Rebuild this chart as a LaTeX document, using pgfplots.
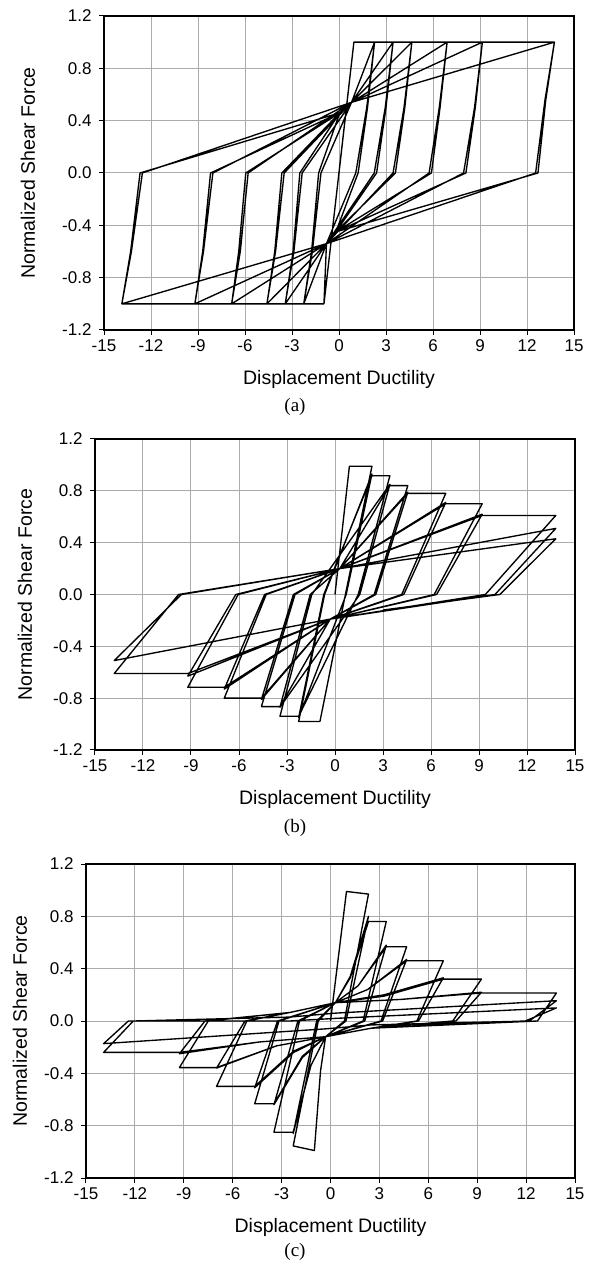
\documentclass[border=0pt]{standalone}
\usepackage{fontspec}
\setmainfont{Liberation Sans}
\newfontfamily\capfont{Liberation Serif}
\usepackage{pgfplots}
\pgfplotsset{compat=1.18}
\pgfplotsset{hyst/.style={
  scale only axis, xmin=-15, xmax=15, ymin=-1.2, ymax=1.2,
  xtick={-15,-12,-9,-6,-3,0,3,6,9,12,15},
  ytick={-1.2,-0.8,-0.4,0,0.4,0.8,1.2},
  grid=major, major grid style={color=black!33, line width=1pt},
  axis line style={line width=1.3pt},
  tick align=outside, tick pos=left, major tick length=5pt,
  tick style={black, line width=1pt},
  /pgf/number format/assume math mode=true,
  yticklabel style={xshift=-4pt, /pgf/number format/fixed, /pgf/number format/fixed zerofill, /pgf/number format/precision=1},
  xticklabel style={yshift=-1pt},
  tick label style={font=\fontsize{17}{17}\selectfont},
  label style={font=\fontsize{19.5}{19.5}\selectfont},
  xlabel={Displacement Ductility}, ylabel={Normalized Shear Force},
  xlabel style={at={(axis description cs:0.5,-0.158)}, anchor=center},
}}
\tikzset{hline/.style={black, line width=1.35pt, line join=round, mark=none}}
\begin{document}
\begin{tikzpicture}
\path[use as bounding box] (0pt,0pt) rectangle (589pt,1270pt);
% ---------------- (a)
\begin{axis}[hyst, at={(104pt,940pt)}, anchor=south west, width=470pt, height=314pt,
  ylabel style={at={(axis description cs:-0.162,0.5)}, anchor=center}]
\addplot[hline] coordinates {
(0,0) (0.95,1) (-0.96,-1) (0.95,1)
(2.27,1) (1.82,0.5) (1.22,0) (-0.2,-0.45) (-0.8,-0.54) (-0.96,-1) (-2.25,-1) (-1.75,-0.6) (-1.3,0) (0.05,0.46) (0.8,0.54) (2.27,1)
(1.77,0.5) (1.07,0) (-0.8,-0.54) (-2.25,-1) (-1.7,-0.6) (-1.15,0) (0.8,0.54) (2.27,1)
(3.45,1) (3.0,0.5) (2.4,0) (-0.2,-0.45) (-0.8,-0.54) (-2.25,-1) (-3.43,-1) (-2.93,-0.6) (-2.5,0) (0.05,0.46) (0.8,0.54) (3.45,1)
(2.95,0.5) (2.25,0) (-0.8,-0.54) (-3.43,-1) (-2.88,-0.6) (-2.35,0) (0.8,0.54) (3.45,1)
(4.65,1) (4.2,0.5) (3.6,0) (-0.2,-0.45) (-0.8,-0.54) (-3.43,-1) (-4.6,-1) (-4.1,-0.6) (-3.65,0) (0.05,0.46) (0.8,0.54) (4.65,1)
(4.15,0.5) (3.45,0) (-0.8,-0.54) (-4.6,-1) (-4.05,-0.6) (-3.5,0) (0.8,0.54) (4.65,1)
(6.9,1) (6.45,0.5) (5.9,0) (-0.2,-0.45) (-0.8,-0.54) (-4.6,-1) (-6.85,-1) (-6.4,-0.6) (-5.95,0) (0.05,0.46) (0.8,0.54) (6.9,1)
(6.4,0.5) (5.75,0) (-0.8,-0.54) (-6.85,-1) (-6.3,-0.6) (-5.8,0) (0.8,0.54) (6.9,1)
(9.15,1) (8.7,0.5) (8.1,0) (-0.2,-0.45) (-0.8,-0.54) (-6.85,-1) (-9.2,-1) (-8.7,-0.6) (-8.2,0) (0.05,0.46) (0.8,0.54) (9.15,1)
(8.65,0.5) (7.95,0) (-0.8,-0.54) (-9.2,-1) (-8.65,-0.6) (-8.05,0) (0.8,0.54) (9.15,1)
(13.75,1) (13.2,0.56) (12.7,0) (-0.2,-0.45) (-0.8,-0.54) (-9.2,-1) (-13.86,-1) (-13.3,-0.6) (-12.7,0) (0.05,0.46) (0.8,0.54) (13.75,1)
(13.15,0.56) (12.55,0) (-0.8,-0.54) (-13.86,-1) (-13.25,-0.6) (-12.55,0) (0.8,0.54) (13.75,1)
};
\end{axis}
\node[font=\capfont\fontsize{19}{19}\selectfont] at (295pt,863pt) {(a)};
% ---------------- (b)
\begin{axis}[hyst, at={(95pt,520pt)}, anchor=south west, width=480pt, height=311pt,
  ylabel style={at={(axis description cs:-0.146,0.5)}, anchor=center}]
\addplot[hline] coordinates {
(0,0) (0.9,0.99) (2.31,0.99)
(0.65,0) (-0.94,-0.98) (-2.27,-0.98) (-0.65,0)
(2.31,0.93) (0.7,0) (-2.27,-0.95) (-0.7,0)
(2.31,0.916) (3.43,0.916) (1.45,0) (-2.27,-0.94) (-3.44,-0.94) (-1.45,0)
(3.43,0.85) (1.55,0) (-3.44,-0.87) (-1.55,0)
(0.3,0.2) (3.43,0.84) (4.55,0.84) (2.45,0) (-0.3,-0.19) (-3.44,-0.865) (-4.6,-0.865) (-2.5,0)
(0.3,0.2) (4.55,0.79) (2.55,0) (-0.3,-0.19) (-4.6,-0.81) (-2.6,0)
(0.3,0.2) (4.55,0.78) (6.92,0.78) (4.17,0) (-0.3,-0.19) (-4.6,-0.80) (-6.92,-0.80) (-4.3,0)
(0.3,0.2) (6.92,0.71) (4.3,0) (-0.3,-0.19) (-6.92,-0.73) (-4.4,0)
(0.3,0.2) (6.92,0.70) (9.2,0.70) (6.2,0) (-0.3,-0.19) (-6.92,-0.716) (-9.2,-0.716) (-6.05,0)
(0.3,0.2) (9.2,0.62) (6.35,0) (-0.3,-0.19) (-9.2,-0.63) (-6.2,0)
(0.3,0.2) (9.2,0.61) (13.8,0.61) (9.4,0) (-0.3,-0.19) (-9.2,-0.61) (-13.8,-0.61) (-9.78,0)
(0.3,0.2) (13.8,0.51) (10.0,0) (-0.3,-0.19) (-13.8,-0.51) (-9.6,0)
(0.3,0.2) (13.8,0.43) (10.3,0) (3,-0.12)
};
\end{axis}
\node[font=\capfont\fontsize{19}{19}\selectfont] at (295pt,442pt) {(b)};
% ---------------- (c)
\begin{axis}[hyst, at={(86pt,92pt)}, anchor=south west, width=489pt, height=314pt,
  ylabel style={at={(axis description cs:-0.135,0.5)}, anchor=center}]
\addplot[hline] coordinates {
(0,0) (0.98,0.99) (2.33,0.97)
(0.85,0) (-0.3,-0.12) (-0.61,-0.38) (-0.99,-0.99) (-2.29,-0.955) (-0.75,0)
(0.3,0.14) (1.21,0.34) (2.33,0.80) (0.95,0) (-0.3,-0.12) (-1.2,-0.34) (-2.29,-0.86) (-0.85,0)
(0.3,0.14) (1.21,0.33) (2.33,0.76) (3.42,0.76) (2.0,0) (-0.3,-0.12) (-1.2,-0.34) (-2.29,-0.85) (-3.47,-0.85) (-1.9,0)
(0.3,0.14) (1.70,0.27) (3.42,0.58) (2.1,0) (-0.3,-0.12) (-1.73,-0.28) (-3.47,-0.64) (-2.0,0)
(0.3,0.14) (1.70,0.27) (3.42,0.567) (4.67,0.567) (3.1,0) (-0.3,-0.12) (-1.73,-0.27) (-3.47,-0.633) (-4.65,-0.633) (-3.16,0)
(0.3,0.14) (2.27,0.24) (4.67,0.47) (3.2,0) (-0.3,-0.12) (-2.26,-0.24) (-4.65,-0.51) (-3.25,0)
(0.3,0.14) (2.27,0.24) (4.67,0.46) (6.92,0.46) (5.3,0) (2.5,-0.055) (-0.3,-0.12) (-2.26,-0.23) (-4.65,-0.50) (-6.99,-0.50) (-5.13,0)
(-2.5,0.065) (0.3,0.14) (3.28,0.20) (6.92,0.33) (5.4,0) (2.5,-0.055) (-0.3,-0.12) (-3.31,-0.19) (-6.99,-0.36) (-5.25,0)
(-2.5,0.065) (0.3,0.14) (3.28,0.19) (6.92,0.32) (9.26,0.32) (7.5,0) (2.5,-0.055) (-0.3,-0.12) (-3.31,-0.19) (-6.99,-0.356) (-9.27,-0.356) (-7.5,0)
(-2.5,0.065) (0.3,0.14) (4.33,0.165) (9.26,0.22) (7.7,0) (2.5,-0.055) (-0.3,-0.12) (-4.34,-0.16) (-9.27,-0.25) (-7.7,0)
(-2.5,0.065) (0.3,0.14) (4.33,0.165) (9.26,0.214) (13.86,0.214) (12.7,0) (2.5,-0.055) (-0.3,-0.12) (-4.34,-0.16) (-9.27,-0.24) (-13.92,-0.24) (-12.1,0)
(-2.5,0.03) (0.3,0.06) (13.86,0.155) (12.2,0) (2.5,-0.03) (-0.3,-0.06) (-13.92,-0.173) (-12.4,0)
(-2.5,0.0) (0.3,0.02) (13.86,0.10) (11.95,0) (5,-0.03)
};
\end{axis}
\node[font=\capfont\fontsize{19}{19}\selectfont] at (295pt,18pt) {(c)};
\end{tikzpicture}
\end{document}
